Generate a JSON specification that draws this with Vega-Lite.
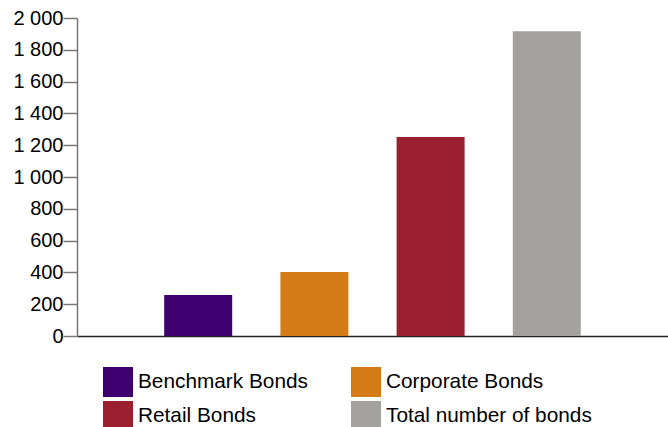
{
  "$schema": "https://vega.github.io/schema/vega-lite/v6.json",
  "width": 591,
  "height": 318,
  "autosize": "none",
  "padding": {"left": 77, "top": 18, "right": 0, "bottom": 91},
  "background": "white",
  "data": {
    "values": [
      {"pos": 1, "category": "Benchmark Bonds", "value": 258},
      {"pos": 2, "category": "Corporate Bonds", "value": 402},
      {"pos": 3, "category": "Retail Bonds", "value": 1252},
      {"pos": 4, "category": "Total number of bonds", "value": 1916}
    ]
  },
  "mark": {"type": "bar", "width": 68},
  "encoding": {
    "x": {
      "field": "pos",
      "type": "quantitative",
      "scale": {"domain": [0, 5], "nice": false, "zero": false},
      "axis": {"title": null, "labels": false, "ticks": false, "grid": false, "domainColor": "#222222", "domainWidth": 1.5}
    },
    "y": {
      "field": "value",
      "type": "quantitative",
      "scale": {"domain": [0, 2000], "nice": false},
      "axis": {
        "title": null,
        "grid": false,
        "values": [0, 200, 400, 600, 800, 1000, 1200, 1400, 1600, 1800, 2000],
        "labelExpr": "replace(format(datum.value, ','), ',', ' ')",
        "labelFont": "Liberation Sans",
        "labelFontSize": 20,
        "labelColor": "#000000",
        "labelPadding": 0,
        "tickSize": 14,
        "tickColor": "#777777",
        "domainColor": "#777777",
        "domainWidth": 1.5,
        "tickWidth": 1.5
      }
    },
    "color": {
      "field": "category",
      "type": "nominal",
      "scale": {
        "domain": ["Benchmark Bonds", "Retail Bonds", "Corporate Bonds", "Total number of bonds"],
        "range": ["#3d006e", "#9b1f2e", "#d47b17", "#a3a29e"]
      },
      "legend": {
        "title": null,
        "orient": "none",
        "legendX": 26,
        "legendY": 349,
        "columns": 2,
        "columnPadding": 43,
        "rowPadding": 4,
        "padding": 0,
        "symbolType": "square",
        "symbolSize": 900,
        "symbolStrokeWidth": 0,
        "symbolOpacity": 1,
        "labelOffset": 5,
        "labelFont": "Liberation Sans",
        "labelFontSize": 20.8,
        "labelColor": "#000000",
        "labelLimit": 400
      }
    }
  },
  "config": {"view": {"stroke": null}}
}
